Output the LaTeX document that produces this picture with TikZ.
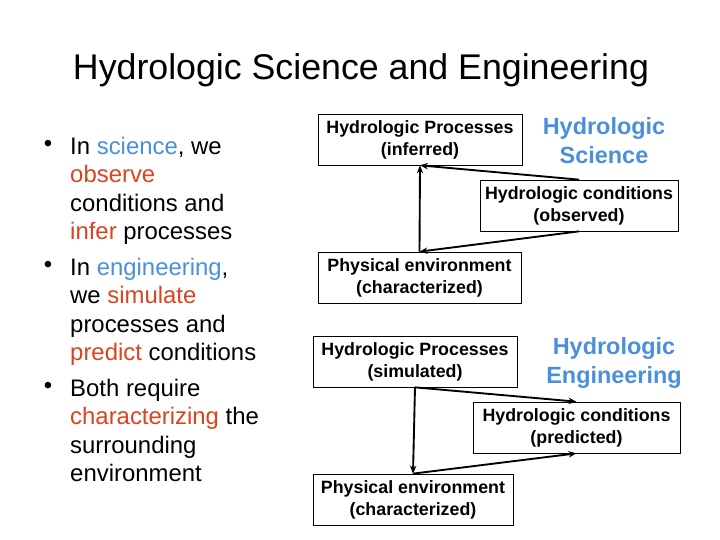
\documentclass[tikz,border=0pt]{standalone}
\usepackage{fontspec}
\setmainfont{Liberation Sans}
\usetikzlibrary{arrows.meta,calc,positioning}
\definecolor{sciBlue}{HTML}{4A8FDB}
\definecolor{actRed}{HTML}{D9441E}
\newcommand{\sci}[1]{\textcolor{sciBlue}{#1}}
\newcommand{\act}[1]{\textcolor{actRed}{#1}}

\begin{document}
\begin{tikzpicture}[
  x=0.03cm, y=-0.03cm,
  title/.style={font=\fontsize{30.5}{36}\selectfont, anchor=base, inner sep=0pt},
  bullettext/.style={font=\fontsize{20.4}{24.2}\selectfont, align=left, anchor=north west, inner sep=0pt},
  bulletdot/.style={font=\fontsize{20.4}{24.2}\selectfont, inner sep=0pt},
  procbox/.style={draw=black, line width=0.6pt, align=center, inner sep=0pt,
    minimum height=1.53cm, font=\fontsize{15.2}{18.7}\selectfont\bfseries},
  heading/.style={align=center, text=sciBlue, inner sep=0pt, font=\fontsize{20}{24.6}\selectfont\bfseries},
  link/.style={-{Stealth[length=2.4mm, width=1.9mm]}, line width=1.6pt}
]
\useasboundingbox (0,0) rectangle (720,540);

\node[title] (ttl) at (361,80) {Hydrologic Science and Engineering};

% bullet list
\node[bullettext] (item1) at (70,137) {In \sci{science}, we\\\act{observe}\\conditions and\\\act{infer} processes};
\node[bullettext] (item2) at (70,258) {In \sci{engineering},\\we \act{simulate}\\processes and\\\act{predict} conditions};
\node[bullettext] (item3) at (70,379) {Both require\\\act{characterizing} the\\surrounding\\environment};
\foreach \n/\y in {1/146, 2/267, 3/388}
  \node[bulletdot] (dot\n) at (48,\y) {•};

% science
\node[procbox, minimum width=6.12cm] (sciproc) at (420,139.5) {Hydrologic Processes\\(inferred)};
\node[procbox, minimum width=5.94cm] (scicond) at (579,205.5) {Hydrologic conditions\\(observed)};
\node[procbox, minimum width=6.09cm] (scienv) at (419.5,277.5) {Physical environment\\(characterized)};
\node[heading] (scihead) at (604,141) {Hydrologic\\Science};

\draw[link] (scienv.north) -- (sciproc.south);
\draw[link] (scicond.north) -- (sciproc.south);
\draw[link] (scicond.south) -- (scienv.north);

% engineering
\node[procbox, minimum width=6.12cm] (engproc) at (415,361.5) {Hydrologic Processes\\(simulated)};
\node[procbox, minimum width=6.21cm] (engcond) at (576.5,427.5) {Hydrologic conditions\\(predicted)};
\node[procbox, minimum width=6.00cm] (engenv) at (413,499.5) {Physical environment\\(characterized)};
\node[heading] (enghead) at (614,363) {Hydrologic\\Engineering};

\draw[link] (engproc.south) -- (engenv.north);
\draw[link] (engproc.south) -- (engcond.north);
\draw[link] (engenv.north) -- (engcond.south);
\end{tikzpicture}
\end{document}
